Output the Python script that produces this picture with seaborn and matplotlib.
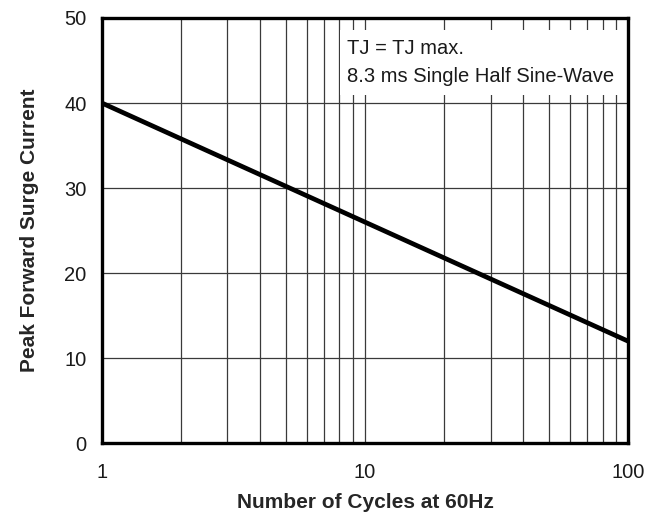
import numpy as np
import pandas as pd
import matplotlib
matplotlib.use("Agg")
import matplotlib.pyplot as plt
import seaborn as sns
from matplotlib.patches import Rectangle
from matplotlib.ticker import FixedLocator, FixedFormatter, NullFormatter

# data (straight line on log-x)
cycles = [1, 10, 100]
surge_current = [40, 26, 12]

x_ticks = [1, 10, 100]
x_tick_labels = ["1", "10", "100"]
y_ticks = [0, 10, 20, 30, 40, 50]

sns.set_theme(style="white")
plt.rcParams['font.family'] = ['Liberation Sans', 'DejaVu Sans']

df = pd.DataFrame({"cycles": cycles, "current": surge_current})

fig = plt.figure(figsize=(6.57, 5.13), dpi=100)
ax = fig.add_axes([0.155, 0.136, 0.801, 0.829])

ax.set_xscale("log")
ax.set_xlim(1, 100)
ax.set_ylim(0, 50)

# grid lines
minor = [v * d for d in (1, 10) for v in range(2, 10)]
for v in minor + [10]:
    ax.axvline(v, color="#3a3a3a", lw=0.9, zorder=1)
for v in [10, 20, 30, 40]:
    ax.axhline(v, color="#3a3a3a", lw=0.9, zorder=1)

sns.lineplot(data=df, x="cycles", y="current", color="black", lw=3.4, ax=ax, zorder=3)

ax.xaxis.set_major_locator(FixedLocator(x_ticks))
ax.xaxis.set_major_formatter(FixedFormatter(x_tick_labels))
ax.xaxis.set_minor_formatter(NullFormatter())
ax.set_yticks(y_ticks)
ax.tick_params(axis="both", which="both", length=0, labelsize=14.5, colors="#1a1a1a")
ax.tick_params(axis="x", pad=14)
ax.tick_params(axis="y", pad=11)

for s in ax.spines.values():
    s.set_visible(True)
    s.set_color("black")
    s.set_linewidth(2.4)

ax.set_xlabel("Number of Cycles at 60Hz", fontsize=15, fontweight="bold", labelpad=8)
ax.set_ylabel("Peak Forward Surge Current", fontsize=15, fontweight="bold", labelpad=18)

# white label box over the grid
ax.add_patch(Rectangle((0.452, 0.819), 0.545, 0.153, transform=ax.transAxes,
                       fc="white", ec="none", zorder=2))
ax.text(0.466, 0.928, "TJ = TJ max.", transform=ax.transAxes,
        ha="left", va="center", fontsize=14.5, color="#1a1a1a", zorder=4)
ax.text(0.466, 0.862, "8.3 ms Single Half Sine-Wave", transform=ax.transAxes,
        ha="left", va="center", fontsize=14.5, color="#1a1a1a", zorder=4)

fig.savefig("out.png", dpi=100)
